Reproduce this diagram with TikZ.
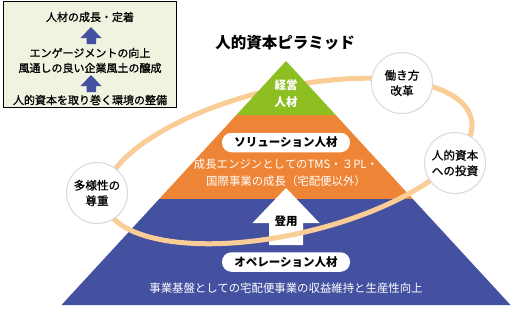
\documentclass[tikz,border=0pt]{standalone}
\usepackage{fontspec}
\setmainfont{Noto Sans CJK JP}
\newfontfamily\jpmed{Noto Sans CJK JP}[FakeBold=0.9]
\usetikzlibrary{shadows}
\definecolor{pgreen}{RGB}{141,191,35}
\definecolor{porange}{RGB}{238,132,54}
\definecolor{pblue}{RGB}{67,81,160}
\definecolor{ringc}{RGB}{250,204,150}
\definecolor{boxfill}{RGB}{239,243,223}
\definecolor{cborder}{RGB}{218,218,218}
\tikzset{
  jp/.style={font=\fontsize{11.5}{15.5}\selectfont, inner sep=0pt, align=center},
  jpb/.style={font=\bfseries\fontsize{11.5}{16.5}\selectfont, inner sep=0pt, align=center},
  pill/.style={jpb, fill=white, rounded corners=9.5pt, minimum width=128pt, minimum height=19.5pt},
  wtxt/.style={jp, text=white, font=\fontsize{11.4}{16.5}\selectfont},
  wbtxt/.style={jpb, text=white},
  bubble/.style={jp, font=\jpmed\fontsize{11.6}{15.5}\selectfont, circle, fill=white, draw=cborder, line width=1pt, minimum size=61pt,
    drop shadow={opacity=0.12, shadow xshift=0.6pt, shadow yshift=-0.6pt}},
  boxtxt/.style={jp, font=\jpmed\fontsize{11}{15}\selectfont},
  ringline/.style={draw=ringc, line width=5pt},
  uparrow/.style={fill=pblue}
}
\begin{document}
\begin{tikzpicture}[x=1pt,y=-1pt]
\useasboundingbox (0,0) rectangle (513,308);
% pyramid corners
\coordinate (apex) at (286,61);
\coordinate (gl) at (236.3,115);
\coordinate (gr) at (335.7,115);
\coordinate (ol) at (159.2,199);
\coordinate (or) at (412.8,199);
\coordinate (bl) at (61.5,305);
\coordinate (br) at (510.5,305);
\fill[porange] (gl) -- (gr) -- (or) -- (ol) -- cycle;
\fill[pblue] (ol) -- (or) -- (br) -- (bl) -- cycle;
% promotion arrow
\fill[white] (286,188) -- (319.5,223) -- (303,223) -- (303,245) -- (269,245) -- (269,223) -- (252.5,223) -- cycle;
% ring
\draw[ringline, rotate around={13:(288,161)}] (288,161) ellipse [x radius=188pt, y radius=73pt];
% top tier
\fill[pgreen] (apex) -- (gr) -- (gl) -- cycle;
% title
\node[jpb, font=\bfseries\fontsize{15.5}{18}\selectfont] (title) at (285,43) {人的資本ピラミッド};
% tier texts
\node[wbtxt] (mgmt) at (286,93.5) {経営\\人材};
\node[pill] (sol) at (286,142.5) {ソリューション人材};
\node[wtxt] (soltxt) at (286,173) {成長エンジンとしてのTMS・３PL・\\国際事業の成長（宅配便以外）};
\node[jpb] (promo) at (286,221) {登用};
\node[pill] (ope) at (286,262) {オペレーション人材};
\node[wtxt] (opetxt) at (286,288) {事業基盤としての宅配便事業の収益維持と生産性向上};
% bubbles
\node[bubble] (work) at (402,83) {働き方\\改革};
\node[bubble] (invest) at (455,163) {人的資本\\への投資};
\node[bubble] (div) at (97,193) {多様性の\\尊重};
% top-left box
\draw[line width=1.6pt, fill=boxfill] (3.5,1.5) rectangle (176.5,107.5);
\node[boxtxt] (b1) at (90,17) {人材の成長・定着};
\node[boxtxt] (b2) at (90,60.5) {エンゲージメントの向上\\風通しの良い企業風土の醸成};
\node[boxtxt] (b3) at (90,100) {人的資本を取り巻く環境の整備};
\fill[uparrow] (91,27) -- (101.5,38) -- (96,38) -- (96,44) -- (86.5,44) -- (86.5,38) -- (80.5,38) -- cycle;
\fill[uparrow] (91,75) -- (101.5,86) -- (96,86) -- (96,92) -- (86.5,92) -- (86.5,86) -- (80.5,86) -- cycle;
\end{tikzpicture}
\end{document}
